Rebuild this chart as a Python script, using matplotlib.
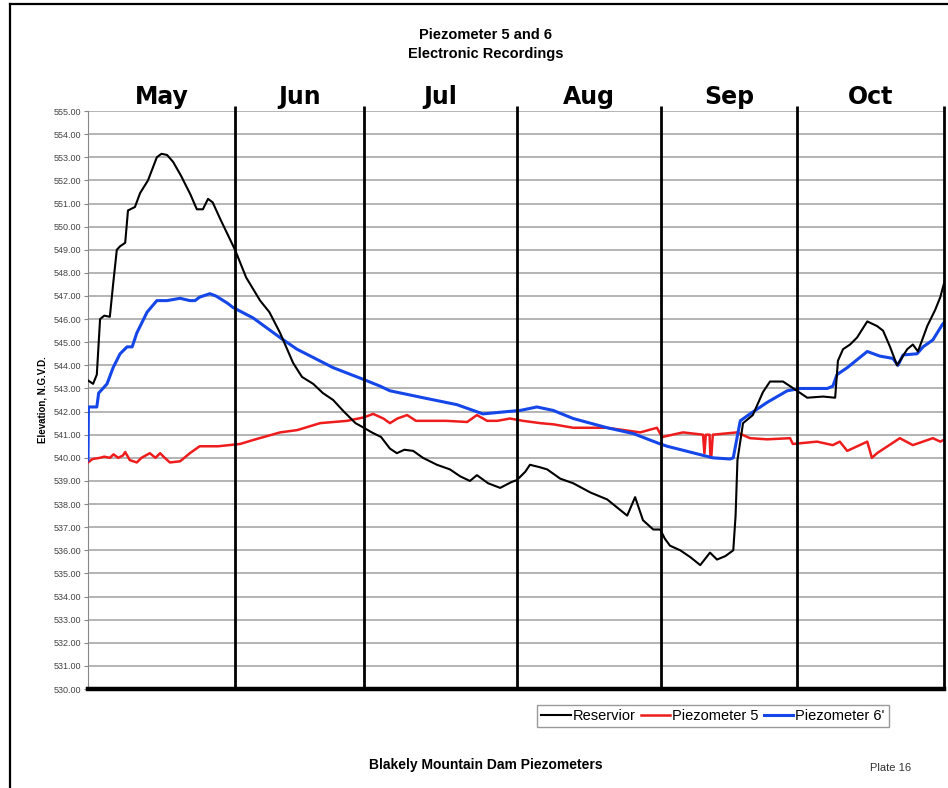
import matplotlib
matplotlib.use("Agg")
import matplotlib.pyplot as plt
from matplotlib.lines import Line2D

# days since May 1 (x) and elevation in ft N.G.V.D. (y)
month_names = ["May", "Jun", "Jul", "Aug", "Sep", "Oct"]
month_edges = [0, 31.6, 59.3, 92.2, 123.2, 152.4, 184.0]

res_day = [0, 1.1, 1.9, 2.6, 3.5, 4.7, 5.4, 6.2, 6.9, 8.0, 8.6, 10.1, 11.2, 12.9,
           14.8, 15.8, 17.0, 18.3, 20.0, 22.0, 23.4, 24.7, 25.8, 26.8, 28.5, 31.6,
           34.0, 37.0, 39.0, 41.3, 44.1, 46.0, 48.4, 50.5, 52.7, 55.0, 57.5, 59.3,
           61.0, 63.0, 64.9, 66.4, 68.0, 69.9, 72.0, 75.0, 77.8, 80.0, 82.1, 83.6,
           86.0, 88.6, 91.0, 92.2, 94.0, 95.0, 97.0, 98.7, 101.5, 104.3, 108.0,
           111.6, 115.9, 117.6, 119.3, 121.5, 123.0, 124.0, 125.1, 127.3, 129.5,
           131.6, 133.7, 135.2, 137.0, 138.7, 139.2, 139.6, 140.8, 142.9, 145.1,
           146.6, 149.4, 152.4, 154.6, 158.0, 160.6, 161.2, 162.3, 163.8, 165.3,
           167.5, 169.6, 170.9, 172.4, 173.9, 176.1, 177.3, 178.4, 180.4, 182.1,
           183.2, 184.2]
res_elev = [543.35, 543.2, 543.6, 546.0, 546.15, 546.1, 547.5, 549.0, 549.15, 549.3,
            550.7, 550.85, 551.45, 552.0, 553.0, 553.15, 553.1, 552.8, 552.2, 551.4,
            550.75, 550.75, 551.2, 551.05, 550.3, 549.0, 547.8, 546.8, 546.3, 545.4,
            544.1, 543.5, 543.2, 542.8, 542.5, 542.0, 541.5, 541.3, 541.1, 540.9,
            540.4, 540.2, 540.35, 540.3, 540.0, 539.7, 539.5, 539.2, 539.0, 539.25,
            538.9, 538.7, 538.95, 539.04, 539.4, 539.7, 539.6, 539.5, 539.1, 538.9,
            538.5, 538.2, 537.5, 538.3, 537.3, 536.9, 536.9, 536.5, 536.2, 536.0,
            535.7, 535.36, 535.9, 535.6, 535.75, 536.0, 537.5, 539.9, 541.5, 541.85,
            542.85, 543.3, 543.3, 542.9, 542.6, 542.65, 542.6, 544.2, 544.7, 544.9,
            545.2, 545.9, 545.7, 545.5, 544.8, 544.0, 544.7, 544.9, 544.6, 545.7,
            546.4, 546.95, 547.7]

p5_day = [0, 1.0, 2.6, 3.5, 4.7, 5.5, 6.5, 7.5, 8.0, 9.0, 10.5, 11.5, 13.3, 14.5,
          15.5, 16.5, 17.6, 19.8, 21.9, 24.0, 28.0, 32.7, 36.0, 41.3, 45.0, 49.9,
          55.7, 59.3, 61.3, 63.5, 64.9, 66.5, 68.6, 70.5, 73.5, 77.0, 81.5, 83.6,
          85.8, 88.0, 90.7, 93.5, 97.2, 100.0, 104.3, 111.6, 118.7, 122.3, 123.4,
          127.9, 132.2, 132.5, 132.8, 133.6, 133.8, 134.0, 134.3, 139.5, 142.3,
          146.0, 150.9, 151.5, 156.7, 160.1, 161.6, 163.2, 167.5, 168.5, 169.6,
          174.5, 177.3, 181.6, 183.2, 184.2]
p5_elev = [539.8, 539.95, 540.0, 540.05, 540.0, 540.15, 540.0, 540.1, 540.25, 539.9,
           539.8, 540.0, 540.2, 540.0, 540.2, 540.0, 539.8, 539.85, 540.2, 540.5,
           540.5, 540.6, 540.8, 541.1, 541.2, 541.5, 541.6, 541.75, 541.9, 541.7,
           541.5, 541.7, 541.85, 541.6, 541.6, 541.6, 541.55, 541.85, 541.6, 541.6,
           541.7, 541.6, 541.5, 541.45, 541.3, 541.3, 541.1, 541.3, 540.9, 541.1,
           541.0, 540.2, 541.0, 541.0, 540.0, 540.1, 541.0, 541.1, 540.85, 540.8,
           540.85, 540.6, 540.7, 540.55, 540.7, 540.3, 540.7, 540.0, 540.2, 540.85,
           540.55, 540.85, 540.7, 540.8]

p6_day = [0.0, 0.1, 1.9, 2.3, 4.1, 5.4, 6.9, 8.4, 9.5, 10.5, 12.7, 14.8, 17.0, 19.8,
          21.9, 23.0, 24.0, 26.2, 27.5, 29.9, 31.2, 35.5, 41.3, 44.9, 52.7, 59.1,
          62.8, 64.9, 72.0, 79.3, 84.9, 90.1, 92.9, 96.5, 100.0, 104.3, 111.6,
          117.2, 123.0, 124.5, 134.3, 138.0, 138.7, 140.2, 142.3, 146.0, 150.3,
          153.1, 158.9, 160.1, 161.0, 163.2, 167.5, 170.2, 173.0, 174.1, 175.2,
          178.2, 179.5, 181.6, 183.6, 184.2]
p6_elev = [539.9, 542.2, 542.2, 542.8, 543.2, 543.9, 544.5, 544.8, 544.8, 545.4,
           546.3, 546.8, 546.8, 546.9, 546.8, 546.8, 546.95, 547.1, 547.0, 546.7,
           546.5, 546.05, 545.2, 544.7, 543.9, 543.4, 543.1, 542.9, 542.6, 542.3,
           541.9, 542.0, 542.05, 542.2, 542.05, 541.7, 541.3, 541.05, 540.6, 540.5,
           540.0, 539.95, 540.0, 541.6, 541.9, 542.4, 542.9, 543.0, 543.0, 543.1,
           543.6, 543.9, 544.6, 544.4, 544.3, 544.0, 544.45, 544.5, 544.8, 545.1,
           545.75, 545.9]

y_ticks = [530 + i for i in range(26)]

narrow = ["Liberation Sans Narrow", "Liberation Sans", "DejaVu Sans"]
sans = ["Liberation Sans", "DejaVu Sans"]

fig = plt.figure(figsize=(9.48, 7.88), dpi=100, facecolor="w")
ax = fig.add_axes([0.0928, 0.1256, 0.903, 0.7335])

ax.plot(res_day, res_elev, color="black", lw=1.5, label="Reservior", zorder=4)
ax.plot(p5_day, p5_elev, color="#ee1c1c", lw=1.8, label="Piezometer 5", zorder=3)
ax.plot(p6_day, p6_elev, color="#1446e8", lw=2.2, label="Piezometer 6'", zorder=3)

ax.set_xlim(month_edges[0], month_edges[-1])
ax.set_ylim(530, 555)
ax.set_yticks(y_ticks)
ax.set_yticklabels(["%.2f" % v for v in y_ticks], fontsize=6.5, color="#444444",
                   family=narrow)
ax.set_xticks([])
ax.yaxis.grid(True, color="#a8a8a8", lw=1.2)
ax.set_axisbelow(True)
ax.tick_params(axis="y", length=3, color="#888888", pad=2)

for s in ["top", "right"]:
    ax.spines[s].set_visible(False)
ax.spines["left"].set_color("#888888")
ax.spines["bottom"].set_linewidth(3.2)
ax.spines["bottom"].set_color("black")

# month separators, running slightly above the plot
ax.vlines(month_edges[1:], 530, 555.2, color="black", lw=2.0, clip_on=False, zorder=5)
for i, name in enumerate(month_names):
    mid = (month_edges[i] + month_edges[i + 1]) / 2
    ax.text(mid, 555.3, name, ha="center", va="baseline", fontsize=17,
            fontweight="bold", family="DejaVu Sans")

ax.set_ylabel("Elevation, N.G.V.D.", fontsize=7, fontweight="bold", family=sans,
              labelpad=4)

fig.text(0.512, 0.956, "Piezometer 5 and 6", ha="center", va="center",
         fontsize=10.5, fontweight="bold", family=narrow)
fig.text(0.512, 0.932, "Electronic Recordings", ha="center", va="center",
         fontsize=10.5, fontweight="bold", family=narrow)

fig.legend(loc="center", bbox_to_anchor=(0.752, 0.0914), ncol=3,
           prop={"family": sans, "size": 10.5}, handlelength=2.0,
           handletextpad=0.15, columnspacing=0.35, fancybox=False,
           edgecolor="#999999", borderpad=0.3, framealpha=1)

fig.text(0.512, 0.029, "Blakely Mountain Dam Piezometers", ha="center",
         va="center", fontsize=10, fontweight="bold", family=sans)
fig.text(0.939, 0.026, "Plate 16", ha="center", va="center", fontsize=8,
         color="#333333", family=sans)

# page border
fig.add_artist(Line2D([0.0105, 0.0105], [0.995, 0.0], color="black", lw=1.6))
fig.add_artist(Line2D([0.0105, 1.0], [0.995, 0.995], color="black", lw=1.6))

fig.savefig("out.png", dpi=100)
